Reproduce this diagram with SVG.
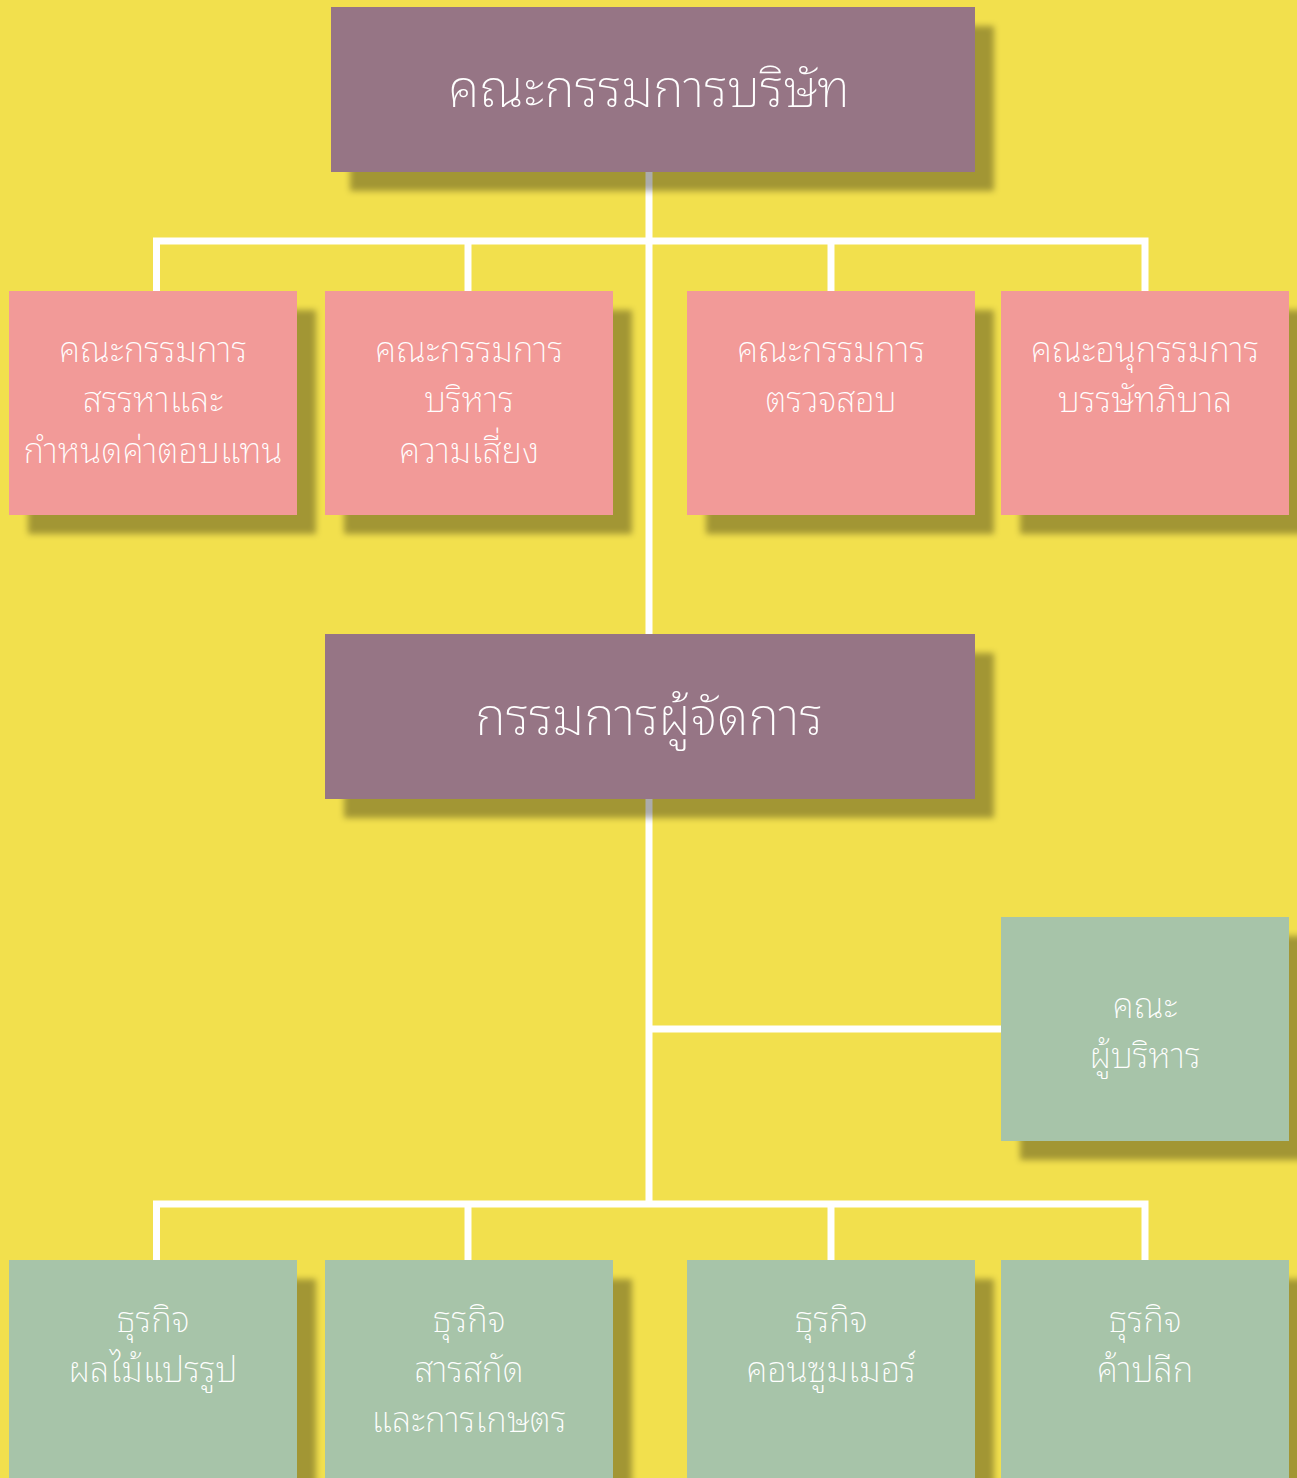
<svg xmlns="http://www.w3.org/2000/svg" width="1297" height="1478" viewBox="0 0 1297 1478">
<defs>
<filter id="sh" x="-10%" y="-10%" width="130%" height="140%">
<feDropShadow dx="19" dy="19" stdDeviation="3" flood-color="#000" flood-opacity="0.33"/>
</filter>
<style>
.bg{fill:#F2E04D}
.purple{fill:#967585;filter:url(#sh)}
.pink{fill:#F29A98;filter:url(#sh)}
.green{fill:#A7C4A9;filter:url(#sh)}
.conn{fill:none;stroke:#FFFFFF;stroke-width:7;stroke-linejoin:miter;stroke-linecap:butt}
text{font-family:"Noto Sans Thai Looped","Noto Serif Thai","Loma","Garuda","Norasi","Noto Sans Thai",sans-serif;fill:#FFFFFF;text-anchor:middle;font-weight:200}
.big{font-size:52px}
.sm{font-size:35px}
</style>
</defs>
<rect class="bg" x="0" y="0" width="1297" height="1478"/>
<g id="connectors">
<path class="conn" d="M649 171 V634"/>
<path class="conn" d="M156.5 291 V241 H1145 V291"/>
<path class="conn" d="M468 241 V291"/>
<path class="conn" d="M831 241 V291"/>
<path class="conn" d="M649 798 V1204"/>
<path class="conn" d="M649 1029 H1001"/>
<path class="conn" d="M156.5 1260 V1204 H1145 V1260"/>
<path class="conn" d="M468 1204 V1260"/>
<path class="conn" d="M831 1204 V1260"/>
</g>
<g id="board">
<rect class="purple" x="331" y="7" width="644" height="165"/>
<text class="big" x="649" y="107">คณะกรรมการบริษัท</text>
</g>
<g id="nomination">
<rect class="pink" x="9" y="291" width="288" height="224"/>
<text class="sm" x="153" y="362">คณะกรรมการ</text>
<text class="sm" x="153" y="412">สรรหาและ</text>
<text class="sm" x="153" y="463">กำหนดค่าตอบแทน</text>
</g>
<g id="risk">
<rect class="pink" x="325" y="291" width="288" height="224"/>
<text class="sm" x="469" y="362">คณะกรรมการ</text>
<text class="sm" x="469" y="412">บริหาร</text>
<text class="sm" x="469" y="463">ความเสี่ยง</text>
</g>
<g id="audit">
<rect class="pink" x="687" y="291" width="288" height="224"/>
<text class="sm" x="831" y="362">คณะกรรมการ</text>
<text class="sm" x="831" y="412">ตรวจสอบ</text>
</g>
<g id="governance">
<rect class="pink" x="1001" y="291" width="288" height="224"/>
<text class="sm" x="1145" y="362">คณะอนุกรรมการ</text>
<text class="sm" x="1145" y="412">บรรษัทภิบาล</text>
</g>
<g id="md">
<rect class="purple" x="325" y="634" width="650" height="165"/>
<text class="big" x="649" y="735">กรรมการผู้จัดการ</text>
</g>
<g id="executive">
<rect class="green" x="1001" y="917" width="288" height="224"/>
<text class="sm" x="1145" y="1018">คณะ</text>
<text class="sm" x="1145" y="1068">ผู้บริหาร</text>
</g>
<g id="fruit">
<rect class="green" x="9" y="1260" width="288" height="240"/>
<text class="sm" x="153" y="1332">ธุรกิจ</text>
<text class="sm" x="153" y="1382">ผลไม้แปรรูป</text>
</g>
<g id="extract">
<rect class="green" x="325" y="1260" width="288" height="240"/>
<text class="sm" x="469" y="1332">ธุรกิจ</text>
<text class="sm" x="469" y="1382">สารสกัด</text>
<text class="sm" x="469" y="1432">และการเกษตร</text>
</g>
<g id="consumer">
<rect class="green" x="687" y="1260" width="288" height="240"/>
<text class="sm" x="831" y="1332">ธุรกิจ</text>
<text class="sm" x="831" y="1382">คอนซูมเมอร์</text>
</g>
<g id="retail">
<rect class="green" x="1001" y="1260" width="288" height="240"/>
<text class="sm" x="1145" y="1332">ธุรกิจ</text>
<text class="sm" x="1145" y="1382">ค้าปลีก</text>
</g>
</svg>
